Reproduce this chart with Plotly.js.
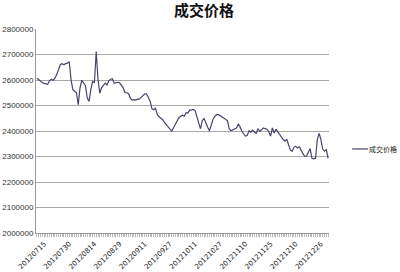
<!DOCTYPE html>
<html>
<head>
<meta charset="utf-8">
<script src="https://cdn.plot.ly/plotly-3.0.1.min.js"></script>
<style>html,body{margin:0;padding:0;background:#fff;}#chart{width:400px;height:272px;}</style>
</head>
<body>
<div id="chart"></div>
<script>
const seriesName = "成交价格";
const tickLabels = ["20120715","20120730","20120814","20120829","20120911","20120927","20121011","20121027","20121110","20121125","20121210","20121226"];
const tickIndex = [4,18,32,46,60,74,88,102,116,130,144,158];
const prices = [
2607000,2601000,2594000,2590000,2587000,2585000,2583000,2597000,2603000,2599000,
2607000,2621000,2640000,2660000,2664000,2660000,2664000,2666000,2672000,2601000,
2562000,2557000,2550000,2503000,2570000,2599000,2587000,2578000,2530000,2516000,
2562000,2594000,2589000,2712000,2601000,2548000,2570000,2581000,2588000,2581000,
2597000,2603000,2605000,2587000,2589000,2591000,2589000,2581000,2569000,2550000,
2550000,2546000,2529000,2521000,2523000,2521000,2525000,2525000,2533000,2538000,
2546000,2546000,2529000,2517000,2487000,2483000,2489000,2464000,2456000,2450000,
2444000,2434000,2425000,2417000,2407000,2399000,2413000,2427000,2442000,2452000,
2458000,2462000,2458000,2472000,2470000,2482000,2483000,2485000,2480000,2460000,
2432000,2409000,2440000,2450000,2429000,2415000,2401000,2429000,2446000,2458000,
2464000,2464000,2460000,2456000,2450000,2446000,2440000,2409000,2401000,2405000,
2409000,2412000,2427000,2417000,2399000,2391000,2380000,2382000,2401000,2395000,
2403000,2395000,2391000,2408000,2399000,2405000,2412000,2409000,2407000,2397000,
2380000,2412000,2392000,2407000,2397000,2387000,2373000,2366000,2360000,2368000,
2346000,2325000,2321000,2336000,2340000,2333000,2338000,2321000,2311000,2301000,
2301000,2317000,2331000,2293000,2291000,2293000,2366000,2391000,2366000,2329000,
2321000,2327000,2293000
];
const idx = prices.map((_, i) => i);

const trace = {
  x: idx, y: prices, type: 'scatter', mode: 'lines', name: seriesName,
  line: {color: '#45466a', width: 1.2}, showlegend: false, hoverinfo: 'skip'
};
const layout = {
  width: 400, height: 272,
  margin: {l: 36, r: 71, t: 29, b: 39},
  paper_bgcolor: '#fff', plot_bgcolor: '#fff',
  title: {text: '<b>' + seriesName + '</b>', x: 0.51, xanchor: 'center', y: 0.96, yanchor: 'middle',
          font: {family: 'Noto Sans CJK SC', size: 15, color: '#111'}},
  xaxis: {
    range: [-0.5, prices.length - 0.5], tickmode: 'array', tickvals: tickIndex, ticktext: tickLabels,
    tickangle: -45, tickfont: {family: 'DejaVu Sans', size: 7, color: '#222'},
    showgrid: false, zeroline: false, showline: true, linecolor: '#999', linewidth: 1,
    ticks: 'outside', ticklen: 3, tickcolor: '#bbb',
    minor: {dtick: 1, tick0: 0, ticks: 'outside', ticklen: 3, tickcolor: '#bbb', showgrid: false}
  },
  yaxis: {
    range: [2000000, 2800000], dtick: 100000, tickformat: 'd',
    tickfont: {family: 'Liberation Sans', size: 8, color: '#333'},
    showgrid: true, gridcolor: '#a8a8a8', gridwidth: 1, zeroline: false,
    showline: true, linecolor: '#999', linewidth: 1, ticks: '', ticklen: 0
  },
  shapes: [{type: 'line', xref: 'paper', yref: 'paper', x0: 1.079, x1: 1.133, y0: 0.412, y1: 0.412,
            line: {color: '#45466a', width: 1.2}}],
  annotations: [{xref: 'paper', yref: 'paper', x: 1.131, y: 0.412, xanchor: 'left', yanchor: 'middle',
                 text: seriesName, showarrow: false, font: {family: 'Noto Sans CJK SC', size: 7, color: '#222'}}]
};
Plotly.newPlot('chart', [trace], layout, {staticPlot: true, displayModeBar: false});
</script>
</body>
</html>
